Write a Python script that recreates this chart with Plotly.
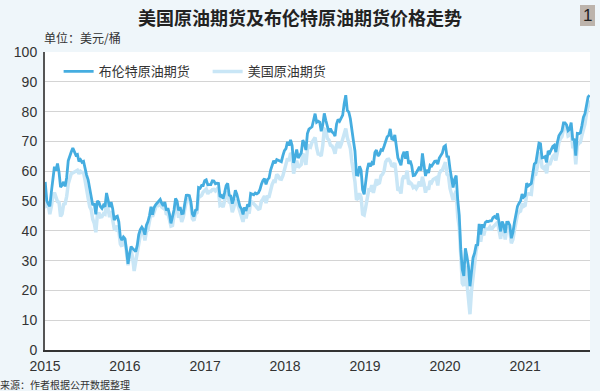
import pandas as pd
import plotly.graph_objects as go

# Weekly (Friday) closing prices, USD/bbl
brent_2015 = [56.4, 50.1, 49.0, 48.2, 52.99, 57.8, 61.5, 60.2, 62.6, 59.7, 54.7, 55.3, 56.4,
              54.9, 57.9, 63.5, 65.3, 66.5, 67.8, 66.8, 65.4, 65.6, 63.3, 63.9, 63.0, 63.3,
              60.3, 58.7, 57.1, 54.6, 52.2, 48.6, 49.2, 45.5, 50.0, 49.6, 48.1, 47.5, 48.6,
              48.1, 52.7, 50.5, 48.0, 49.6, 47.4, 43.6, 44.7, 44.9, 43.0, 37.9, 36.9, 37.9]
wti_2015 = [52.7, 48.4, 48.7, 45.6, 48.2, 51.7, 52.8, 50.8, 49.8, 49.6, 44.8, 45.7, 48.9,
            49.1, 51.6, 55.7, 57.2, 59.2, 59.4, 59.7, 59.7, 60.3, 59.1, 59.96, 59.6, 59.6,
            56.9, 52.7, 50.9, 48.1, 47.1, 43.9, 42.5, 39.5, 45.2, 46.1, 44.6, 44.7, 45.7,
            45.5, 49.6, 47.3, 44.6, 46.6, 44.3, 40.7, 40.4, 41.7, 39.97, 35.6, 34.7, 38.1]

brent_2016 = [37.3, 33.6, 28.9, 32.2, 34.7, 34.1, 33.4, 33.0, 35.1, 38.7, 40.4, 41.2, 40.4,
              38.7, 41.9, 43.1, 45.1, 48.1, 45.4, 47.8, 48.7, 49.3, 49.6, 50.5, 49.2, 48.4,
              49.7, 46.8, 47.6, 45.7, 42.5, 44.3, 46.97, 50.9, 49.9, 46.8, 48.0, 45.8, 45.9,
              49.1, 51.9, 51.95, 51.8, 49.7, 45.6, 44.8, 46.9, 47.2, 54.5, 54.3, 55.2, 55.2, 56.8]
wti_2016 = [37.0, 33.2, 28.4, 32.2, 33.6, 30.9, 26.5, 29.6, 32.8, 35.9, 38.5, 39.4, 39.5,
            36.8, 39.7, 40.4, 43.7, 45.9, 44.7, 46.2, 47.8, 49.3, 48.6, 49.1, 47.98, 47.6,
            48.99, 45.4, 45.95, 44.2, 41.6, 41.8, 44.5, 48.5, 47.6, 44.4, 45.9, 43.0, 44.5,
            48.2, 49.8, 50.4, 50.85, 48.7, 44.1, 43.4, 45.7, 46.1, 51.7, 51.5, 51.9, 53.0, 53.7]

brent_2017 = [57.1, 55.45, 55.5, 55.5, 56.8, 56.7, 55.8, 56.0, 55.9, 51.4, 51.8, 50.8, 52.8,
              55.2, 55.9, 51.96, 51.7, 49.1, 50.8, 53.6, 52.2, 49.95, 48.15, 47.4, 45.5, 47.9,
              46.7, 48.9, 48.1, 52.5, 52.4, 52.1, 52.7, 52.4, 52.75, 53.8, 55.6, 56.9, 57.5,
              55.6, 57.2, 57.75, 60.4, 62.1, 63.5, 62.7, 63.9, 63.7, 63.4, 63.2, 65.25, 66.9]
wti_2017 = [53.99, 52.4, 53.2, 53.2, 53.8, 53.9, 53.4, 54.0, 53.3, 48.5, 48.8, 47.97, 50.6,
            52.2, 53.2, 49.6, 49.3, 46.2, 47.8, 50.3, 49.8, 47.7, 45.8, 44.7, 43.0, 46.0,
            44.2, 46.5, 45.8, 49.7, 49.6, 48.8, 48.5, 47.9, 47.3, 47.5, 49.9, 50.7, 51.7,
            49.3, 51.45, 51.5, 53.9, 55.6, 56.7, 56.6, 58.95, 58.4, 57.4, 57.3, 58.5, 60.4]

brent_2018 = [67.6, 69.9, 68.6, 70.5, 68.6, 62.8, 64.8, 67.3, 64.4, 65.5, 66.2, 70.45, 69.3,
              67.1, 72.6, 74.1, 74.6, 74.9, 77.1, 79.3, 76.4, 76.8, 76.5, 73.4, 75.6, 79.4,
              77.1, 75.3, 73.1, 74.3, 73.2, 72.8, 71.8, 75.8, 77.4, 76.8, 78.1, 78.8, 82.7,
              85.5, 80.4, 79.8, 77.6, 72.8, 70.2, 66.8, 58.8, 58.7, 61.7, 60.3, 53.8, 52.2]
wti_2018 = [61.4, 64.3, 63.4, 66.1, 65.45, 59.2, 61.7, 63.55, 61.25, 62.0, 62.3, 65.9, 64.9,
            62.1, 67.4, 68.4, 68.1, 69.7, 70.7, 71.3, 67.9, 65.8, 65.7, 65.1, 68.6, 74.15,
            73.8, 71.0, 70.5, 68.7, 68.5, 67.6, 65.9, 68.7, 69.8, 67.75, 68.99, 70.8, 73.25,
            74.3, 71.3, 69.1, 67.6, 63.1, 60.2, 56.5, 50.4, 50.9, 52.6, 51.2, 45.6, 45.3]

brent_2019 = [57.1, 60.5, 62.7, 61.6, 62.75, 62.1, 66.25, 67.1, 65.1, 65.7, 67.2, 67.0, 68.4,
              70.3, 71.55, 71.97, 74.2, 70.85, 70.6, 72.2, 68.7, 64.5, 63.3, 62.0, 65.2, 66.55,
              64.2, 66.7, 62.5, 63.5, 61.9, 58.5, 58.6, 59.3, 60.4, 61.5, 60.2, 66.0, 61.9,
              58.4, 60.5, 59.4, 62.0, 61.7, 62.5, 63.3, 63.4, 62.4, 64.4, 65.2, 66.1, 68.2]
wti_2019 = [47.96, 51.6, 53.8, 53.7, 55.3, 52.7, 55.6, 57.3, 55.8, 56.1, 58.5, 59.0, 60.1,
            63.1, 63.9, 64.0, 63.3, 61.9, 61.7, 62.8, 58.6, 53.5, 54.0, 52.5, 57.4, 58.5,
            57.5, 60.2, 55.6, 56.2, 55.7, 54.5, 54.9, 54.2, 55.1, 56.5, 54.85, 58.1, 55.9,
            52.8, 54.7, 53.8, 56.7, 56.2, 57.2, 57.7, 57.8, 55.2, 59.2, 60.1, 60.4, 61.7]

brent_2020 = [68.6, 64.98, 64.85, 60.7, 58.2, 54.5, 57.3, 58.5, 50.5, 45.3, 33.85, 26.98, 24.9,
              34.1, 31.5, 28.1, 21.4, 26.4, 30.97, 32.5, 35.1, 35.3, 42.3, 38.7, 42.2, 41.0,
              42.8, 43.2, 43.1, 43.3, 43.3, 44.4, 44.8, 44.35, 45.8, 42.7, 39.8, 43.15, 41.9,
              39.3, 42.85, 42.9, 41.8, 37.5, 39.45, 42.8, 44.96, 48.2, 49.25, 50.0, 52.3, 51.3]
wti_2020 = [63.05, 59.0, 58.5, 54.2, 51.6, 50.3, 52.05, 53.4, 44.8, 41.3, 31.7, 22.4, 21.5,
            28.3, 22.8, 18.3, 12.0, 19.8, 24.7, 29.4, 33.25, 35.5, 39.55, 36.3, 39.75, 38.5,
            40.65, 40.55, 40.6, 41.3, 40.3, 41.2, 42.0, 42.3, 42.97, 39.8, 37.3, 41.1, 40.25,
            37.05, 40.6, 40.9, 39.85, 35.8, 37.1, 40.1, 42.4, 45.5, 46.3, 46.6, 49.1, 48.2]

brent_2021 = [51.8, 55.99, 55.1, 55.4, 55.9, 59.3, 62.4, 62.9, 66.1, 69.4, 69.2, 64.5, 64.6,
              64.9, 62.95, 66.8, 66.1, 67.25, 68.3, 68.7, 66.4, 69.6, 71.9, 72.7, 73.5, 76.2,
              76.2, 75.55, 73.6, 74.1, 76.3, 70.7, 70.6, 65.2, 72.7, 72.6, 72.9, 75.3, 78.1,
              79.3, 82.4, 84.9, 85.5]
wti_2021 = [48.5, 52.2, 52.4, 52.3, 52.2, 56.85, 59.5, 59.2, 61.5, 66.1, 65.6, 61.4, 60.97,
            61.45, 59.3, 63.1, 62.1, 63.6, 64.9, 65.4, 63.6, 66.3, 69.6, 70.9, 71.6, 74.05,
            75.2, 74.6, 71.8, 72.1, 73.95, 68.3, 68.4, 62.3, 68.7, 69.3, 69.7, 71.97, 73.98,
            75.9, 79.35, 82.3, 83.8]

years = [2015, 2016, 2017, 2018, 2019, 2020, 2021]
brent_by_year = [brent_2015, brent_2016, brent_2017, brent_2018, brent_2019, brent_2020, brent_2021]
wti_by_year = [wti_2015, wti_2016, wti_2017, wti_2018, wti_2019, wti_2020, wti_2021]

tick_years = ["2015", "2016", "2017", "2018", "2019", "2020", "2021"]

dates, brent, wti = [], [], []
for y, b, w in zip(years, brent_by_year, wti_by_year):
    fr = pd.date_range(f"{y}-01-01", f"{y}-12-31", freq="W-FRI")[:len(b)]
    dates += list(fr)
    brent += b
    wti += w

BRENT_C = "#45ade0"
WTI_C = "#c9e6f6"

fig = go.Figure()
fig.add_trace(go.Scatter(x=dates, y=wti, mode="lines", name="美国原油期货",
                         line=dict(color=WTI_C, width=3.5)))
fig.add_trace(go.Scatter(x=dates, y=brent, mode="lines", name="布伦特原油期货",
                         line=dict(color=BRENT_C, width=2.8)))

FONT = "Liberation Sans, Arial, Noto Sans CJK SC, sans-serif"
CJK = "Noto Sans CJK SC, sans-serif"

fig.update_layout(
    width=600, height=391,
    margin=dict(l=45, r=10, t=52, b=41),
    paper_bgcolor="#eff6fa",
    plot_bgcolor="#ffffff",
    font=dict(family=FONT, size=14, color="#333333"),
    title=dict(text="<b>美国原油期货及布伦特原油期货价格走势</b>",
               x=0.5, xanchor="center", y=1 - 19 / 391, yanchor="middle",
               font=dict(family=CJK, size=18, color="#222222")),
    showlegend=True,
    legend=dict(orientation="h", x=0.025, y=0.985, xanchor="left", yanchor="top",
                bgcolor="rgba(0,0,0,0)", traceorder="reversed",
                font=dict(family=CJK, size=13, color="#333333"),
                itemwidth=30, entrywidth=104),
    xaxis=dict(type="date", range=["2015-01-01", "2021-10-24"],
               tickmode="array",
               tickvals=[f"{y}-01-01" for y in tick_years],
               ticktext=tick_years,
               showgrid=False, zeroline=False,
               showline=True, linecolor="#333333", linewidth=1.5,
               ticks="", ticklabelstandoff=2,
               tickfont=dict(size=14, color="#333333")),
    yaxis=dict(range=[0, 100], dtick=10, tick0=0,
               showgrid=True, gridcolor="#d4d4d4", gridwidth=1.2,
               zeroline=False,
               showline=True, linecolor="#555555", linewidth=2,
               ticks="", ticklabelstandoff=3,
               tickfont=dict(size=14, color="#333333")),
)

fig.add_annotation(text="单位：美元/桶", xref="paper", yref="paper",
                   x=(42 - 45) / 545, y=(350 - 38) / 298, xanchor="left", yanchor="middle",
                   showarrow=False, font=dict(family=CJK, size=12, color="#333333"))
fig.add_annotation(text="来源：作者根据公开数据整理", xref="paper", yref="paper",
                   x=(-2 - 45) / 545, y=(350 - 384) / 298, xanchor="left", yanchor="middle",
                   showarrow=False, font=dict(family=CJK, size=10, color="#333333"))
fig.add_shape(type="rect", xref="paper", yref="paper",
              x0=(580 - 45) / 545, x1=(595 - 45) / 545,
              y0=(350 - 26) / 298, y1=(350 - 5) / 298,
              fillcolor="#bdb4ac", line=dict(width=0))
fig.add_annotation(text="1", xref="paper", yref="paper",
                   x=(587.5 - 45) / 545, y=(350 - 15.5) / 298, xanchor="center", yanchor="middle",
                   showarrow=False, font=dict(family=FONT, size=17, color="#222222"))

fig.write_html("out.html", config={"displayModeBar": False},
               post_script="document.body.style.margin='0';document.body.style.overflow='hidden';")
